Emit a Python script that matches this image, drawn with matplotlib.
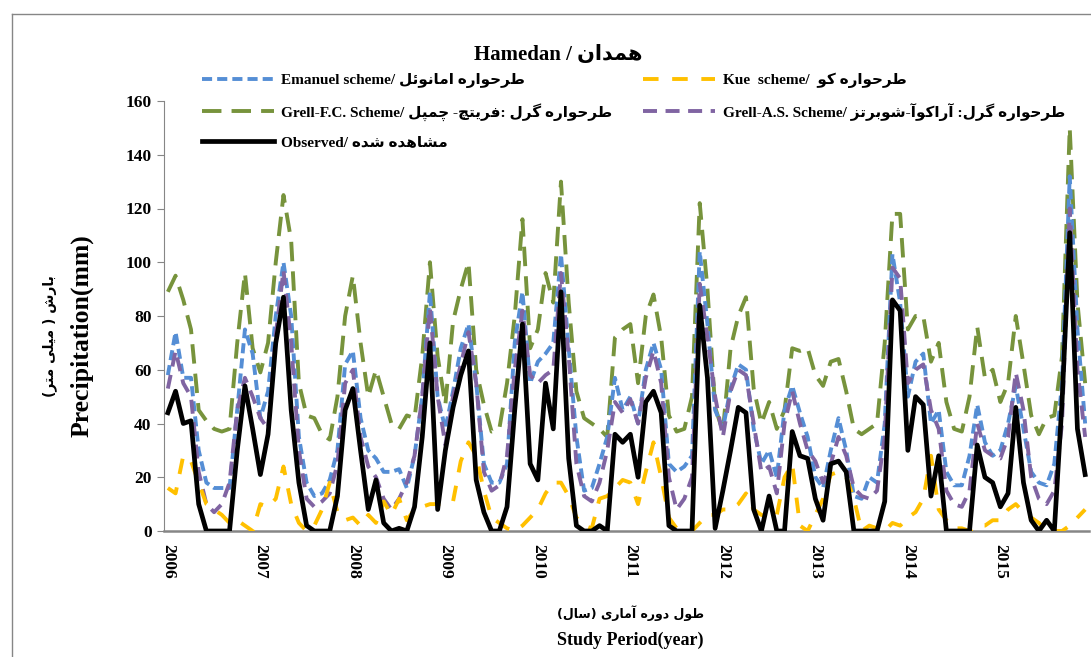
import numpy as np
import matplotlib
matplotlib.use("Agg")
import matplotlib.pyplot as plt
from matplotlib.lines import Line2D
from matplotlib.font_manager import FontProperties

# monthly precipitation (mm), Jan 2006 .. Dec 2015
years = [str(y) for y in range(2006, 2016)]

emanuel = [58, 74, 57, 57, 30, 18, 16, 16, 16, 45, 75, 66,
           42, 52, 80, 100, 80, 35, 18, 13, 14, 19, 30, 62,
           67, 42, 30, 27, 22, 22, 23, 16, 28, 50, 89, 50,
           38, 52, 68, 77, 55, 25, 18, 18, 25, 70, 89, 55,
           63, 66, 70, 103, 68, 35, 15, 16, 25, 35, 57, 45,
           50, 40, 60, 70, 60, 25, 22, 24, 28, 104, 77, 45,
           38, 53, 62, 60, 38, 25, 30, 20, 45, 54, 44, 35,
           20, 16, 30, 42, 30, 13, 12, 20, 18, 40, 103, 85,
           50, 63, 66, 40, 45, 22, 17, 17, 28, 47, 33, 28,
           30, 40, 54, 38, 22, 18, 17, 25, 55, 132, 75, 40]

kue = [16, 14, 28, 26, 18, 10, 8, 6, 3, 4, 2, 0,
       10, 9, 12, 24, 10, 3, 0, 2, 8, 18, 7, 4,
       5, 2, 6, 3, 11, 6, 12, 4, 8, 9, 10, 10,
       10, 11, 26, 33, 28, 15, 5, 3, 1, 0, 2, 5,
       8, 14, 18, 18, 13, 5, 2, 1, 12, 13, 16, 19,
       18, 10, 22, 33, 20, 5, 1, 0, 0, 3, 6, 6,
       8, 8, 10, 14, 8, 6, 5, 6, 20, 25, 2, 0,
       6, 12, 21, 22, 20, 12, 0, 2, 1, 0, 3, 2,
       5, 7, 12, 28, 8, 4, 1, 1, 0, 2, 2, 4,
       4, 8, 10, 7, 5, 3, 0, 0, 0, 2, 5, 8]

grell_fc = [89, 95, 86, 75, 45, 41, 38, 37, 38, 70, 96, 68,
            59, 70, 100, 125, 108, 55, 43, 42, 36, 34, 50, 80,
            95, 70, 50, 60, 50, 40, 38, 43, 42, 65, 100, 65,
            47, 78, 90, 100, 60, 47, 37, 38, 55, 80, 116, 68,
            75, 96, 85, 130, 85, 52, 42, 40, 38, 35, 72, 75,
            77, 55, 80, 88, 72, 43, 37, 38, 50, 122, 90, 46,
            37, 68, 80, 87, 53, 40, 48, 38, 45, 68, 67, 68,
            58, 54, 63, 64, 52, 38, 36, 38, 40, 70, 118, 118,
            75, 80, 80, 63, 70, 48, 38, 37, 50, 76, 57, 60,
            48, 55, 80, 62, 43, 36, 42, 43, 65, 150, 85, 55]

grell_as = [53, 67, 55, 50, 22, 10, 7, 10, 18, 45, 57, 50,
            42, 38, 73, 97, 70, 30, 12, 9, 11, 14, 25, 55,
            60, 35, 24, 20, 12, 8, 12, 18, 28, 50, 83, 50,
            32, 50, 62, 74, 55, 22, 15, 17, 28, 60, 82, 58,
            55, 58, 60, 96, 65, 25, 13, 11, 18, 30, 48, 44,
            49, 40, 57, 67, 55, 20, 8, 12, 20, 92, 72, 50,
            35, 52, 60, 58, 40, 22, 24, 14, 40, 52, 40, 30,
            26, 18, 25, 35, 28, 16, 13, 12, 15, 35, 98, 94,
            55, 60, 62, 45, 38, 15, 10, 9, 15, 40, 30, 28,
            27, 35, 59, 45, 20, 12, 10, 15, 40, 120, 60, 35]

observed = [44, 52, 40, 41, 10, 0, 0, 0, 0, 30, 54, 38,
            21, 36, 70, 87, 45, 18, 2, 0, 0, 0, 13, 45,
            53, 30, 8, 19, 3, 0, 1, 0, 9, 35, 70, 8,
            30, 46, 58, 67, 19, 7, 0, 0, 9, 45, 77, 25,
            19, 55, 38, 89, 27, 2, 0, 0, 2, 0, 36, 33,
            36, 20, 48, 52, 44, 2, 0, 0, 0, 84, 57, 1,
            15, 30, 46, 44, 8, 0, 13, 0, 0, 37, 28, 27,
            12, 4, 25, 26, 22, 0, 0, 0, 0, 11, 86, 82,
            30, 50, 47, 13, 28, 0, 0, 0, 0, 32, 20, 18,
            9, 14, 46, 18, 4, 0, 4, 0, 48, 111, 38, 21]

months = np.arange(len(observed))

# matplotlib has no Arabic shaping, so pick presentation forms by hand
# and reverse into visual order. (iso, fin, ini, med)
AR = {
    'ا': ('\ufe8d', '\ufe8e', None, None),
    'آ': ('\ufe81', '\ufe82', None, None),
    'ب': ('\ufe8f', '\ufe90', '\ufe91', '\ufe92'),
    'پ': ('\ufb56', '\ufb57', '\ufb58', '\ufb59'),
    'ت': ('\ufe95', '\ufe96', '\ufe97', '\ufe98'),
    'چ': ('\ufb7a', '\ufb7b', '\ufb7c', '\ufb7d'),
    'ح': ('\ufea1', '\ufea2', '\ufea3', '\ufea4'),
    'د': ('\ufea9', '\ufeaa', None, None),
    'ر': ('\ufead', '\ufeae', None, None),
    'ز': ('\ufeaf', '\ufeb0', None, None),
    'س': ('\ufeb1', '\ufeb2', '\ufeb3', '\ufeb4'),
    'ش': ('\ufeb5', '\ufeb6', '\ufeb7', '\ufeb8'),
    'ط': ('\ufec1', '\ufec2', '\ufec3', '\ufec4'),
    'ف': ('\ufed1', '\ufed2', '\ufed3', '\ufed4'),
    'ک': ('\ufb8e', '\ufb8f', '\ufb90', '\ufb91'),
    'گ': ('\ufb92', '\ufb93', '\ufb94', '\ufb95'),
    'ل': ('\ufedd', '\ufede', '\ufedf', '\ufee0'),
    'م': ('\ufee1', '\ufee2', '\ufee3', '\ufee4'),
    'ن': ('\ufee5', '\ufee6', '\ufee7', '\ufee8'),
    'ه': ('\ufee9', '\ufeea', '\ufeeb', '\ufeec'),
    'و': ('\ufeed', '\ufeee', None, None),
    'ی': ('\ufbfc', '\ufbfd', '\ufbfe', '\ufbff'),
    'ئ': ('\ufe89', '\ufe8a', '\ufe8b', '\ufe8c'),
}


def fa(text):
    out = []
    for k, ch in enumerate(text):
        if ch not in AR:
            out.append(ch)
            continue
        prev = text[k - 1] if k > 0 else ''
        nxt = text[k + 1] if k + 1 < len(text) else ''
        jp = prev in AR and AR[prev][2] is not None
        jn = nxt in AR and AR[ch][2] is not None
        iso, fin, ini, med = AR[ch]
        out.append(med if jp and jn else fin if jp else ini if jn else iso)
    vis = ''.join(reversed(out))
    return vis.translate(str.maketrans('()', ')('))


LAT = ['Liberation Serif', 'DejaVu Sans']
FA = ['DejaVu Sans']
W, H = 1091, 657

fig = plt.figure(figsize=(W / 100, H / 100), dpi=100)
ax = fig.add_axes([164 / W, 1 - 531 / H, 925 / W, 430 / H])

l_fc, = ax.plot(months, grell_fc, color='#77933C', lw=2.8, dashes=(5, 2.6), zorder=2)
l_em, = ax.plot(months, emanuel, color='#558ED5', lw=2.8, dashes=(2.6, 1.3), zorder=3)
l_as, = ax.plot(months, grell_as, color='#8064A2', lw=2.8, dashes=(3.6, 2.2), zorder=4)
l_kue, = ax.plot(months, kue, color='#FFC000', lw=2.8, dashes=(4, 3.5), zorder=5)
l_obs, = ax.plot(months, observed, color='black', lw=3.4, zorder=6)

ax.set_xlim(-0.5, len(months) - 0.5)
ax.set_ylim(0, 160)
ax.set_yticks(range(0, 161, 20))
ax.set_xticks(months[::12])
ax.set_xticklabels(years, rotation=-90)

for s in ['top', 'right']:
    ax.spines[s].set_visible(False)
ax.spines['left'].set_color('#868686')
ax.spines['bottom'].set_color('#868686')
ax.spines['bottom'].set_linewidth(1.8)
ax.tick_params(axis='y', direction='out', length=5, color='#868686', pad=4)
ax.tick_params(axis='x', length=0, pad=9)
for t in ax.get_yticklabels() + ax.get_xticklabels():
    t.set_family(LAT)
    t.set_fontweight('bold')
    t.set_fontsize(12.5)

# legend, Excel style: two columns above the data
labels = {
    'em': 'Emanuel scheme/ ' + fa('طرحواره امانوئل'),
    'kue': 'Kue  scheme/  ' + fa('طرحواره کو'),
    'fc': 'Grell-F.C. Scheme/ ' + fa('طرحواره گرل :فریتچ- چمپل'),
    'as': 'Grell-A.S. Scheme/ ' + fa('طرحواره گرل: آراکوآ-شوبرتز'),
    'obs': 'Observed/ ' + fa('مشاهده شده'),
}
ax.legend([l_em, l_fc, l_obs, l_kue, l_as],
          [labels['em'], labels['fc'], labels['obs'], labels['kue'], labels['as']],
          ncol=2, loc='upper left', bbox_to_anchor=(202 / W, 1 - 73 / H),
          bbox_transform=fig.transFigure, frameon=False, borderpad=0,
          borderaxespad=0, handlelength=4.7, handletextpad=0.5,
          labelspacing=0.95, columnspacing=2.0,
          prop=FontProperties(family=LAT, weight='bold', size=11))

fig.text(558 / W, 1 - 55 / H, 'Hamedan / ' + fa('همدان'), ha='center', va='center',
         family=LAT, weight='bold', fontsize=15)

fig.text(50 / W, 1 - 336 / H, fa('بارش ( میلی متر)'), rotation=90, ha='center',
         va='center', family=FA, weight='bold', fontsize=10)
fig.text(82 / W, 1 - 336 / H, 'Precipitation(mm)', rotation=90, ha='center',
         va='center', family=LAT, weight='bold', fontsize=18.5)

fig.text(630 / W, 1 - 613 / H, fa('طول دوره آماری (سال)'), ha='center', va='center',
         family=FA, weight='bold', fontsize=9)
fig.text(630 / W, 1 - 640 / H, 'Study Period(year)', ha='center', va='center',
         family=LAT, weight='bold', fontsize=13)

# chart-area border (left and top edges are visible in the crop)
fig.add_artist(Line2D([12 / W, 12 / W], [0, 1 - 14 / H], transform=fig.transFigure,
                      color='#868686', lw=1))
fig.add_artist(Line2D([12 / W, 1], [1 - 14 / H, 1 - 14 / H], transform=fig.transFigure,
                      color='#868686', lw=1))

fig.savefig('out.png', dpi=100)
